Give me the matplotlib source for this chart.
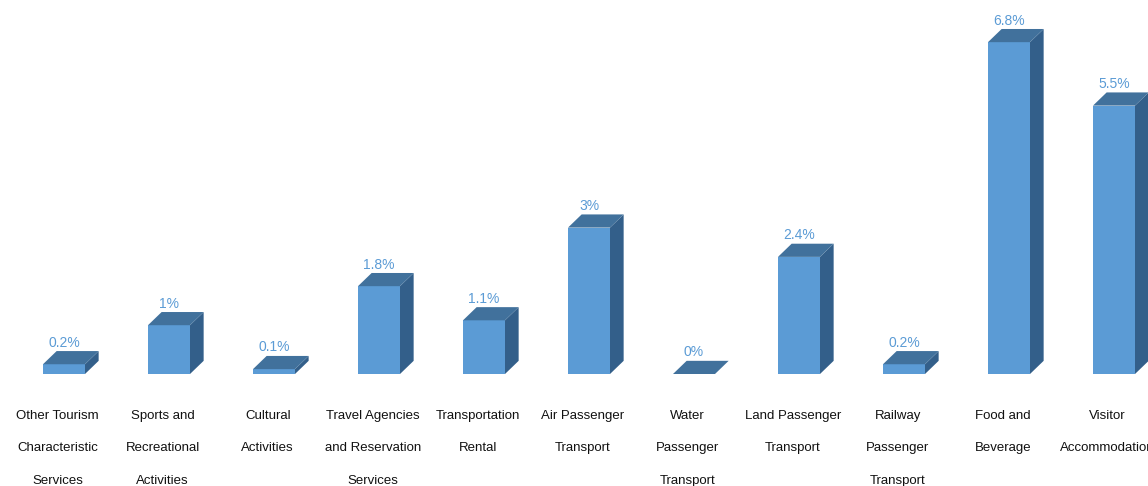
import matplotlib
matplotlib.use('Agg')
import matplotlib.pyplot as plt
from matplotlib.patches import Polygon

plt.rcParams['font.family'] = ['Liberation Sans Narrow', 'Liberation Sans', 'DejaVu Sans']

# data
categories = ['Other Tourism\nCharacteristic\nServices',
              'Sports and\nRecreational\nActivities',
              'Cultural\nActivities',
              'Travel Agencies\nand Reservation\nServices',
              'Transportation\nRental',
              'Air Passenger\nTransport',
              'Water\nPassenger\nTransport',
              'Land Passenger\nTransport',
              'Railway\nPassenger\nTransport',
              'Food and\nBeverage',
              'Visitor\nAccommodation']
values = [0.2, 1, 0.1, 1.8, 1.1, 3, 0, 2.4, 0.2, 6.8, 5.5]
value_labels = ['0.2%', '1%', '0.1%', '1.8%', '1.1%', '3%', '0%', '2.4%', '0.2%', '6.8%', '5.5%']

front = '#5B9BD5'
top_c = '#41719C'
side_c = '#335F8A'

W, H = 1148, 486
fig = plt.figure(figsize=(W / 100, H / 100), dpi=100)
ax = fig.add_axes([0, 0, 1, 1])
ppx = 105.0   # px per category
ppy = 48.8    # px per percent
x0, base = 64, 374
ax.set_xlim(-x0 / ppx, (W - x0) / ppx)
ax.set_ylim(-(H - base) / ppy, base / ppy)
ax.axis('off')

bw = 0.4
dx = 0.13
dy = 0.27

for i, v in enumerate(values):
    l, r = i - bw / 2, i + bw / 2
    # front face
    ax.add_patch(Polygon([(l, 0), (r, 0), (r, v), (l, v)], closed=True,
                         facecolor=front, edgecolor='none'))
    # side face
    ax.add_patch(Polygon([(r, 0), (r + dx, dy), (r + dx, v + dy), (r, v)], closed=True,
                         facecolor=side_c, edgecolor='none'))
    # top face
    ax.add_patch(Polygon([(l, v), (r, v), (r + dx, v + dy), (l + dx, v + dy)], closed=True,
                         facecolor=top_c, edgecolor='none'))
    ax.text(i, v + dy + 0.03, value_labels[i], ha='center', va='bottom',
            fontsize=10, color='#5B9BD5')
    ax.text(i - 0.06, -(410 - base) / ppy, categories[i], ha='center', va='top',
            multialignment='center', fontsize=9.5, color='#111111', linespacing=3.25)

fig.savefig('out.png', dpi=100)
